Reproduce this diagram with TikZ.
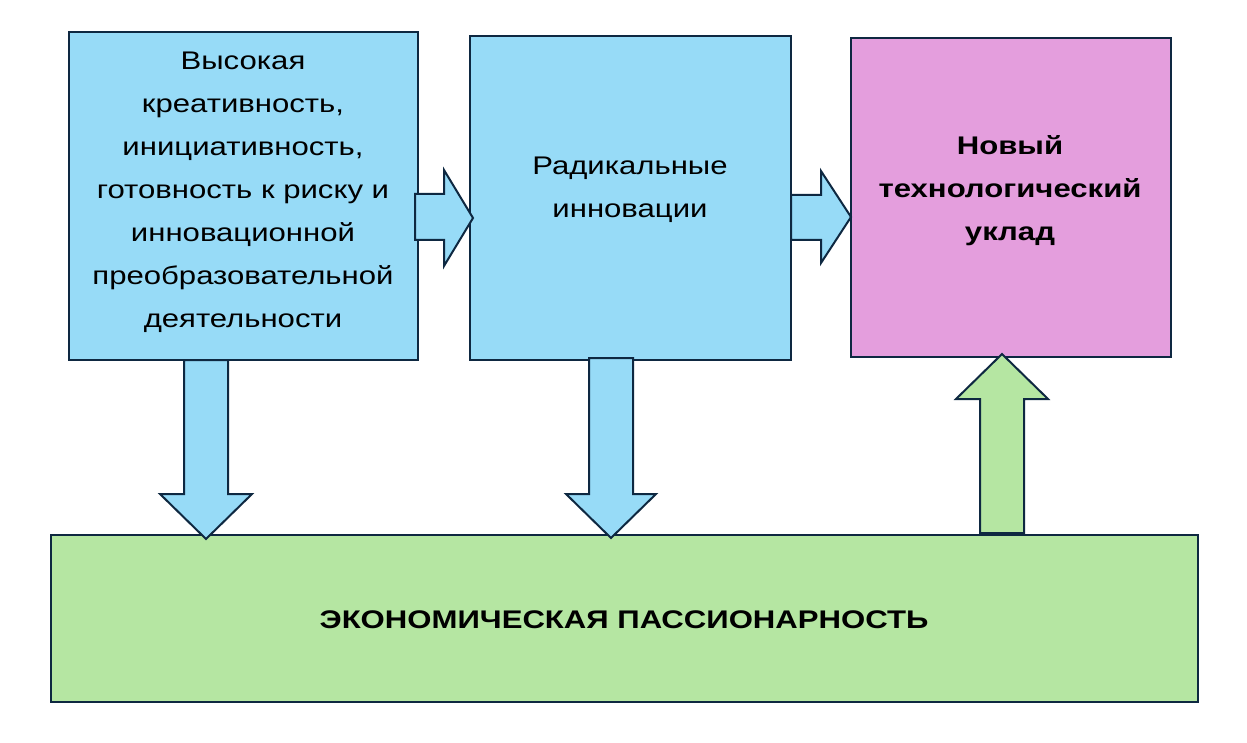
\documentclass[tikz,border=0pt]{standalone}
\usepackage{fontspec}
\setmainfont{Liberation Sans}[FakeStretch=1.22]
\begin{document}
\begin{tikzpicture}[x=1pt,y=-1pt,
  edge/.style={draw=bordc,line width=2pt,line join=miter},
  bluebox/.style={edge,fill=boxblue},
  txt/.style={align=center,font=\fontsize{25.5}{43}\selectfont,inner sep=0pt},
  btxt/.style={align=center,font=\fontsize{25.5}{43}\selectfont\bfseries,inner sep=0pt}]
\definecolor{boxblue}{HTML}{97DBF7}
\definecolor{boxpink}{HTML}{E49EDD}
\definecolor{boxgreen}{HTML}{B5E6A2}
\definecolor{bordc}{HTML}{0E2841}
\useasboundingbox (0,0) rectangle (1247,743);
\fill[white] (0,0) rectangle (1247,743);
% boxes
\draw[bluebox] (69,32) rectangle (418,360);
\draw[bluebox] (470,36) rectangle (791,360);
\draw[edge,fill=boxpink] (851,38) rectangle (1171,357);
\draw[edge,fill=boxgreen] (51,535) rectangle (1198,702);
% right arrows
\draw[bluebox] (415,194) -- (444,194) -- (444,170) -- (473,218) -- (444,266) -- (444,240) -- (415,240) -- cycle;
\draw[bluebox] (791,195) -- (821,195) -- (821,171) -- (851,217) -- (821,263) -- (821,240) -- (791,240) -- cycle;
% down arrows
\draw[bluebox] (184,360) -- (228,360) -- (228,494) -- (252,494) -- (206,539) -- (160,494) -- (184,494) -- cycle;
\draw[bluebox] (589,358) -- (633,358) -- (633,494) -- (656,494) -- (611,538) -- (566,494) -- (589,494) -- cycle;
% up arrow
\draw[edge,fill=boxgreen] (980,533) -- (980,399) -- (956,399) -- (1002,354) -- (1048,399) -- (1024,399) -- (1024,533) -- cycle;
% texts
\node[txt] (t1) at (243,192) {Высокая\\креативность,\\инициативность,\\готовность к риску и\\инновационной\\преобразовательной\\деятельности};
\node[txt] (t2) at (630,190) {Радикальные\\инновации};
\node[btxt] (t3) at (1010,191) {Новый\\технологический\\уклад};
\node[btxt] (t4) at (624,620) {ЭКОНОМИЧЕСКАЯ ПАССИОНАРНОСТЬ};
\end{tikzpicture}
\end{document}
